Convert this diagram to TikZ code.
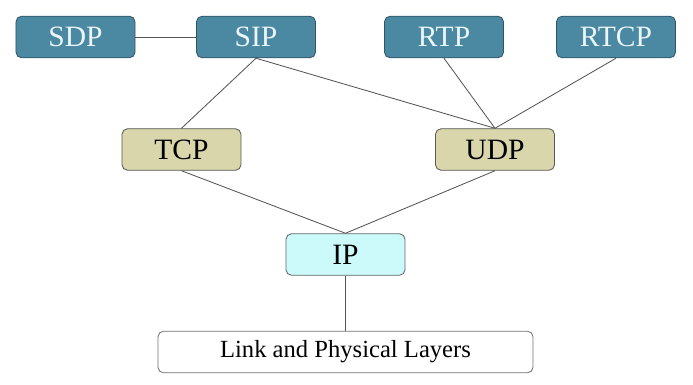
\documentclass[tikz,border=0pt]{standalone}
\usepackage{fontspec}
\setmainfont{Liberation Serif}
\newfontfamily\boxfont{Liberation Serif}
\usepackage{xcolor}
\usetikzlibrary{positioning}
\definecolor{appfill}{HTML}{4B88A2}
\definecolor{appdraw}{HTML}{2F5566}
\definecolor{apptext}{HTML}{EAF6FA}
\definecolor{trfill}{HTML}{D8D6AA}
\definecolor{ipfill}{HTML}{CCFAFB}
\definecolor{wire}{HTML}{555555}

\begin{document}
\begin{tikzpicture}[
  x=0.025cm, y=-0.025cm,
  layer/.style={draw=black!70, rounded corners=4pt, align=center, line width=0.6pt,
    minimum width=2.975cm, minimum height=1.04cm, inner sep=0pt, font=\boxfont\fontsize{21}{24}\selectfont},
  app/.style={layer, fill=appfill, draw=appdraw, text=apptext},
  tr/.style={layer, fill=trfill, draw=black!65},
  net/.style={layer, fill=ipfill, draw=black!60},
  phys/.style={layer, fill=white, draw=black!55, minimum width=9.375cm, font=\boxfont\fontsize{17.5}{20}\selectfont},
  wire/.style={draw=wire, line width=0.6pt}]
\useasboundingbox (0,0) rectangle (693,384);
% application layer
\node[app] (sdp) at (75.5,37) {SDP};
\node[app] (sip) at (256,37) {SIP};
\node[app] (rtp) at (444,37) {RTP};
\node[app] (rtcp) at (616,37) {RTCP};
% transport layer
\node[tr] (tcp) at (181.5,149.5) {TCP};
\node[tr] (udp) at (495,149.5) {UDP};
% network and below
\node[net] (ip) at (345.5,254.5) {IP};
\node[phys] (link) at (345.5,352) {Link and Physical Layers};
\draw[wire] (sdp.east) -- (sip.west);
\foreach \a/\b in {sip/tcp,sip/udp,rtp/udp,rtcp/udp,tcp/ip,udp/ip,ip/link}
  \draw[wire] (\a.south) -- (\b.north);
\end{tikzpicture}
\end{document}
